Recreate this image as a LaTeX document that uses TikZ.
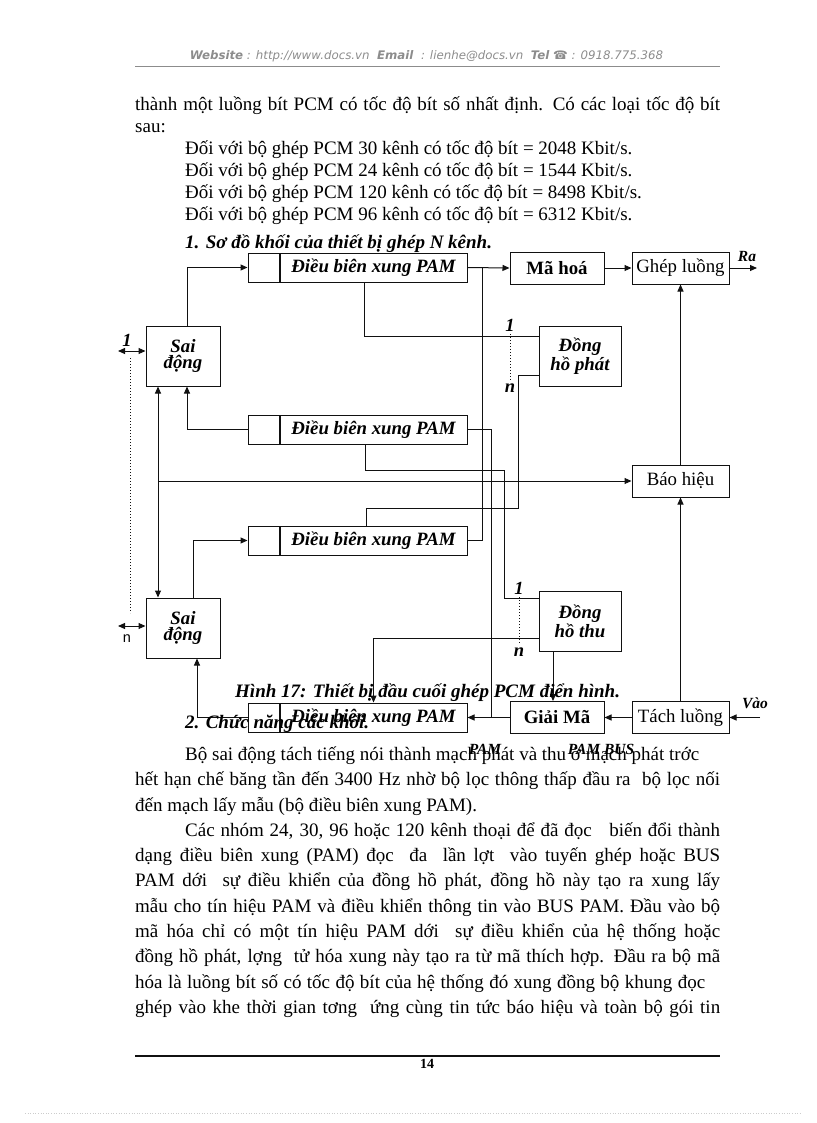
\documentclass[tikz,border=0pt]{standalone}
\usepackage{fontspec}
\setmainfont{Liberation Serif}
\newfontfamily\hdrfont{DejaVu Sans}
\newfontfamily\lblsans{Liberation Sans}
\usetikzlibrary{arrows.meta,positioning,calc}
\definecolor{ink}{HTML}{111111}
\definecolor{hdrgray}{HTML}{8C8C8C}
\tikzset{
  blk/.style  ={draw=ink, line width=1pt, inner sep=0pt, align=center},
  box/.style  ={blk, minimum width=94pt, minimum height=32pt, font=\fontsize{18.8}{20}\selectfont},
  bbox/.style ={box, font=\fontsize{18.8}{20}\selectfont\bfseries},
  wbox/.style ={box, minimum width=97pt},
  tall/.style ={blk, minimum width=74pt, minimum height=60pt,
                font=\fontsize{18.8}{16.5}\selectfont\bfseries\itshape},
  clk/.style  ={tall, minimum width=82pt},
  pam/.style  ={blk, minimum width=187pt, minimum height=29pt,
                font=\fontsize{18.8}{20}\selectfont\bfseries\itshape},
  sq/.style   ={blk, minimum width=31pt, minimum height=29pt},
  fl/.style   ={draw=ink, line width=1pt, -{Triangle[length=7pt,width=6pt]}},
  bl/.style   ={draw=ink, line width=1pt,
                {Triangle[length=7pt,width=6pt]}-{Triangle[length=7pt,width=6pt]}},
  gl/.style   ={draw=ink, line width=1pt},
  dl/.style   ={draw=ink, line width=1pt, dotted},
  num/.style  ={font=\fontsize{18.5}{18}\selectfont\bfseries\itshape, inner sep=0pt},
  tag/.style  ={font=\fontsize{15.5}{15}\selectfont\bfseries\itshape, inner sep=0pt},
  ttl/.style  ={font=\fontsize{19}{20}\selectfont\bfseries\itshape, inner sep=0pt, anchor=base west},
  body/.style ={font=\fontsize{19}{21}\selectfont, inner sep=0pt, anchor=base west},
}
\newcommand{\jline}[2]{\makebox[#1pt][s]{#2}}

\begin{document}
\begin{tikzpicture}[x=1pt,y=-1pt]
  \useasboundingbox (0,0) rectangle (816,1123);

  % header
  \node[font=\hdrfont\fontsize{11.8}{13}\selectfont\itshape, text=hdrgray, inner sep=0pt] (hdr) at (426.5,56)
       {{\bfseries Website} : http://www.docs.vn \ {\bfseries Email} \ : lienhe@docs.vn \ {\bfseries Tel} {\upshape ☎} : 0918.775.368};
  \draw[hdrgray, line width=0.6pt] (135,66) -- (720,66);

  % text above the figure
  \node[body] (l1) at (135,111) {\jline{585}{thành một luồng bít PCM có tốc độ bít số nhất định. Có các loại tốc độ bít}};
  \node[body] (l2) at (135,133) {sau:};
  \node[body] (l3) at (185,155) {Đối với bộ ghép PCM 30 kênh có tốc độ bít = 2048 Kbit/s.};
  \node[body] (l4) at (185,177) {Đối với bộ ghép PCM 24 kênh có tốc độ bít = 1544 Kbit/s.};
  \node[body] (l5) at (185,199) {Đối với bộ ghép PCM 120 kênh có tốc độ bít = 8498 Kbit/s.};
  \node[body] (l6) at (185,221) {Đối với bộ ghép PCM 96 kênh có tốc độ bít = 6312 Kbit/s.};
  \node[ttl] (s1) at (185,248) {1. Sơ đồ khối của thiết bị ghép N kênh.};

  % ---------------- blocks ----------------
  \node[tall] (sai1) at (183,356) {Sai\\động};
  \node[tall] (sai2) at (183,628) {Sai\\động};
  \node[pam] (pam1) at (373.5,267.5) {Điều biên xung PAM};
  \node[pam] (pam2) at (373.5,429.5) {Điều biên xung PAM};
  \node[pam] (pam3) at (373.5,540.5) {Điều biên xung PAM};
  \node[pam] (pam4) at (373.5,717.5) {Điều biên xung PAM};
  \foreach \p in {pam1,pam2,pam3,pam4} \node[sq, left=0pt of \p] (\p s) {};
  \node[bbox] (maHoa)   at (557,268)   {Mã hoá};
  \node[wbox] (ghep)    at (680.5,268) {Ghép luồng};
  \node[clk]  (dhPhat)  at (580,356)   {Đồng\\hồ phát};
  \node[wbox] (baoHieu) at (680.5,481) {Báo hiệu};
  \node[clk]  (dhThu)   at (580,621)   {Đồng\\hồ thu};
  \node[bbox] (giaiMa)  at (557,717.5) {Giải Mã};
  \node[wbox] (tach)    at (680.5,717.5) {Tách luồng};

  % free ends and bends
  \coordinate (in1)   at (118,351);
  \coordinate (inN)   at (118,626);
  \coordinate (raEnd) at (757,268);
  \coordinate (vaoIn) at (760,717.5);
  \coordinate (txBus) at (482,267.5);
  \coordinate (rxBus) at (491,717.5);
  \coordinate (clkTx) at (518,508);
  \coordinate (clkRx) at (504,470);
  \coordinate (sig)   at (158,481);

  % ---------------- connectors ----------------
  \draw[bl] (in1) -- (in1 -| sai1.west);
  \draw[bl] (inN) -- (inN -| sai2.west);
  \draw[dl] ($(in1)+(12,7)$) -- ($(inN)+(12,-13)$);
  \draw[fl] ([xshift=4pt]sai1.north) |- (pam1s.west);
  \draw[fl] (pam2s.west) -| ([xshift=4pt]sai1.south);
  \draw[bl] ([xshift=-25pt]sai1.south) -- ([xshift=-25pt]sai2.north);
  \draw[fl] (sig) -- (baoHieu.west);
  \draw[fl] ([xshift=10pt]sai2.north) |- (pam3s.west);
  \draw[fl] (pam4s.west) -| ([xshift=14pt]sai2.south);

  \draw[fl] (pam1.east) -- (maHoa.west);
  \draw[gl] (pam3.east) -| (txBus);
  \draw[fl] (maHoa.east) -- (ghep.west);
  \draw[fl] (ghep.east) -- (raEnd);
  \draw[gl] (pam2.east) -| (rxBus);
  \draw[fl] (giaiMa.west) -- (pam4.east);
  \draw[fl] (tach.west) -- (giaiMa.east);
  \draw[fl] (vaoIn) -- (tach.east);
  \draw[fl] (tach.north) -- (baoHieu.south);
  \draw[fl] (baoHieu.north) -- (ghep.south);

  \draw[gl] ([xshift=-9.5pt]pam1.south) |- ([yshift=20pt]dhPhat.west);
  \draw[gl] ([yshift=-19pt]dhPhat.west) -| (clkTx) -| ([xshift=-7.5pt]pam3.north);
  \draw[gl] ([xshift=-8.5pt]pam2.south) |- (clkRx) |- ([yshift=23pt]dhThu.west);
  \draw[fl] ([yshift=-17pt]dhThu.west) -| (pam4.north);
  \draw[fl] ([xshift=-27pt]dhThu.south) -- ([xshift=-4pt]giaiMa.north);

  % ---------------- labels ----------------
  \node[num] (oneL) at (127,340) {1};
  \node[font=\lblsans\fontsize{14.5}{14}\selectfont, inner sep=0pt] (nL) at (127,639) {n};
  \node[num] (oneTx) at (510,325) {1};
  \node[num] (nTx)   at (510,388) {n};
  \draw[dl] ([yshift=-3pt]oneTx.south) -- ([yshift=4pt]nTx.north);
  \node[num] (oneRx) at (519,588) {1};
  \node[num] (nRx)   at (519,652) {n};
  \draw[dl] ([yshift=-3pt]oneRx.south) -- ([yshift=4pt]nRx.north);
  \node[tag] (raT)  at (747,257) {Ra};
  \node[tag] (vaoT) at (755,703) {Vào};
  \node[tag] (pamT) at (485,749) {PAM};
  \node[tag] (busT) at (601,749) {PAM BUS};

  \node[ttl] (cap) at (235,697) {Hình 17: Thiết bị đầu cuối ghép PCM điển hình.};
  \node[ttl] (s2)  at (185,728) {2. Chức năng các khối.};

  % text below the figure
  \node[body] (p1) at (185,760) {Bộ sai động tách tiếng nói thành mạch phát và thu ở mạch phát trớc};
  \node[body] (p2) at (135,785) {\jline{585}{hết hạn chế băng tần đến 3400 Hz nhờ bộ lọc thông thấp đầu ra \ bộ lọc nối}};
  \node[body] (p3) at (135,811) {đến mạch lấy mẫu (bộ điều biên xung PAM).};
  \node[body] (p4) at (185,836) {\jline{535}{Các nhóm 24, 30, 96 hoặc 120 kênh thoại để đã đọc \ \ biến đổi thành}};
  \node[body] (p5) at (135,861) {\jline{585}{dạng điều biên xung (PAM) đọc \ đa \ lần lợt \ vào tuyến ghép hoặc BUS}};
  \node[body] (p6) at (135,886) {\jline{585}{PAM dới \ sự điều khiển của đồng hồ phát, đồng hồ này tạo ra xung lấy}};
  \node[body] (p7) at (135,912) {\jline{585}{mẫu cho tín hiệu PAM và điều khiển thông tin vào BUS PAM. Đầu vào bộ}};
  \node[body] (p8) at (135,937) {\jline{585}{mã hóa chỉ có một tín hiệu PAM dới \ sự điều khiển của hệ thống hoặc}};
  \node[body] (p9) at (135,962) {\jline{585}{đồng hồ phát, lợng \ tử hóa xung này tạo ra từ mã thích hợp. Đầu ra bộ mã}};
  \node[body] (p10) at (135,988) {\jline{570}{hóa là luồng bít số có tốc độ bít của hệ thống đó xung đồng bộ khung đọc}};
  \node[body] (p11) at (135,1013) {\jline{585}{ghép vào khe thời gian tơng \ ứng cùng tin tức báo hiệu và toàn bộ gói tin}};

  % footer
  \draw[ink, line width=2.5pt] (135,1056) -- (720,1056);
  \node[font=\fontsize{14}{14}\selectfont\bfseries, inner sep=0pt] (pg) at (427,1064) {14};
  \draw[gray!40, line width=0.6pt, dotted] (25,1113) -- (800,1113);
\end{tikzpicture}
\end{document}
